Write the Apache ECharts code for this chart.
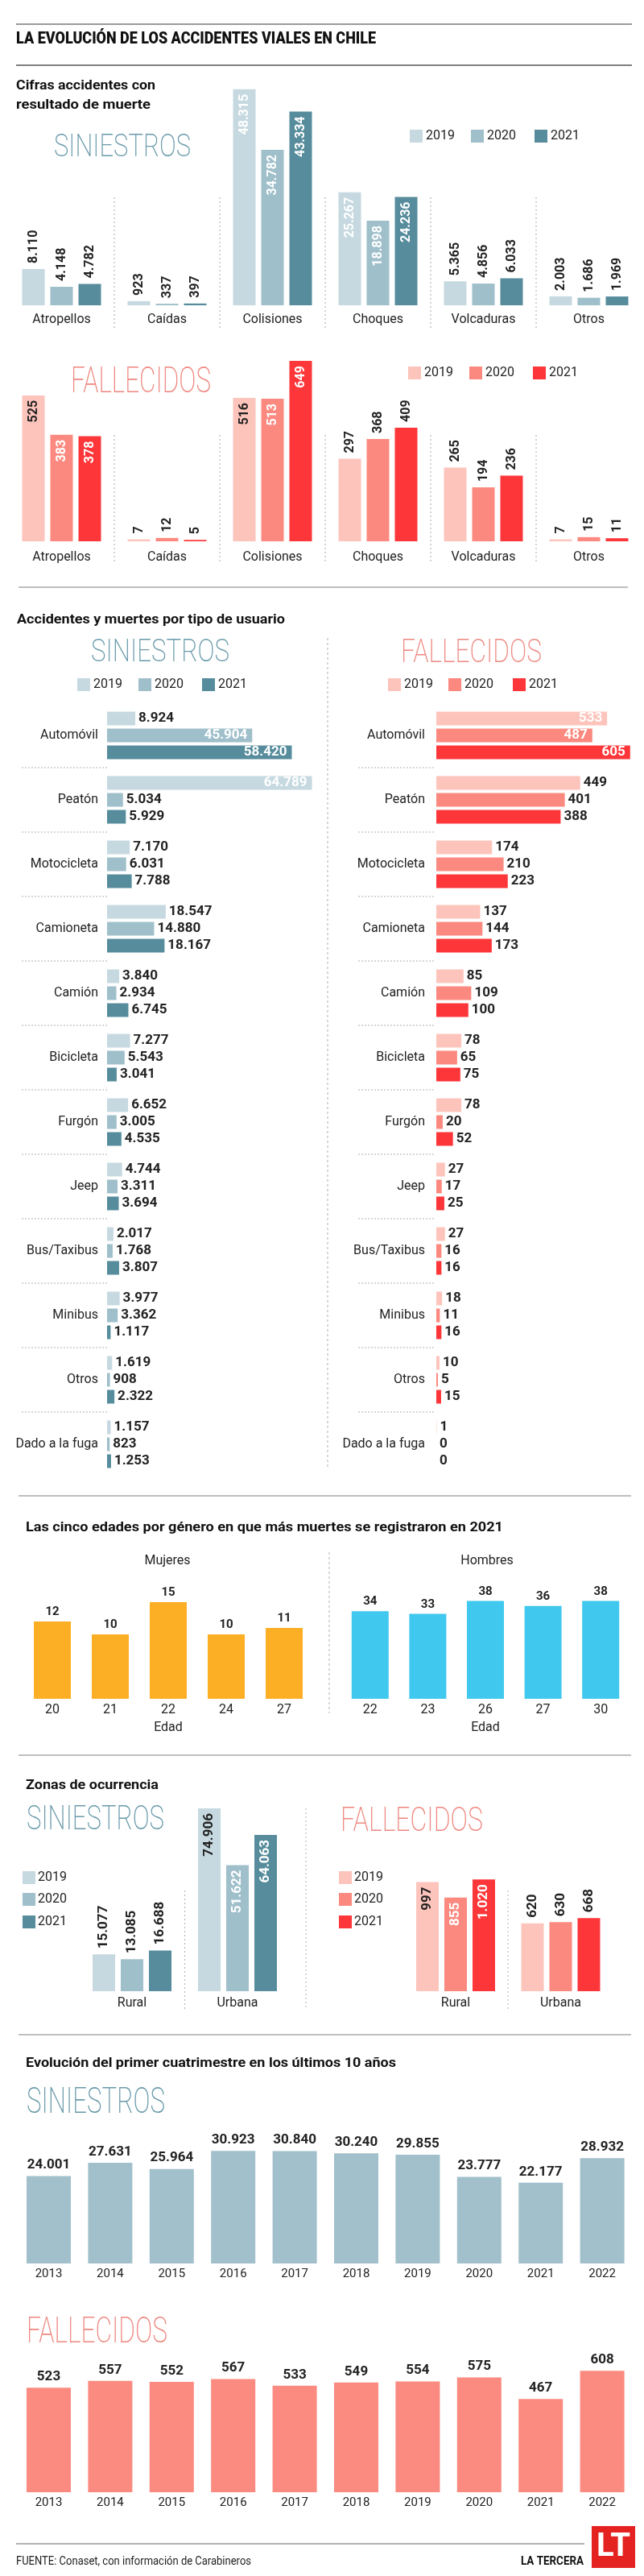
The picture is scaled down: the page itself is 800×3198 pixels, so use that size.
<!DOCTYPE html>
<html><head><meta charset="utf-8">
<script src="https://cdn.jsdelivr.net/npm/echarts/dist/echarts.min.js"></script>
<style>html,body{margin:0;padding:0;background:#fff}#c{width:800px;height:3198px}</style>
</head><body><div id="c"></div>
<script>
// ---------------- DATA ----------------
const years = ['2019', '2020', '2021'];
const typeCats = ['Atropellos', 'Caídas', 'Colisiones', 'Choques', 'Volcaduras', 'Otros'];
const typeSiniestros2019 = [8110, 923, 48315, 25267, 5365, 2003];
const typeSiniestros2020 = [4148, 337, 34782, 18898, 4856, 1686];
const typeSiniestros2021 = [4782, 397, 43334, 24236, 6033, 1969];
const typeFallecidos2019 = [525, 7, 516, 297, 265, 7];
const typeFallecidos2020 = [383, 12, 513, 368, 194, 15];
const typeFallecidos2021 = [378, 5, 649, 409, 236, 11];

const userCats = ['Automóvil', 'Peatón', 'Motocicleta', 'Camioneta', 'Camión', 'Bicicleta', 'Furgón', 'Jeep', 'Bus/Taxibus', 'Minibus', 'Otros', 'Dado a la fuga'];
const userSiniestros2019 = [8924, 64789, 7170, 18547, 3840, 7277, 6652, 4744, 2017, 3977, 1619, 1157];
const userSiniestros2020 = [45904, 5034, 6031, 14880, 2934, 5543, 3005, 3311, 1768, 3362, 908, 823];
const userSiniestros2021 = [58420, 5929, 7788, 18167, 6745, 3041, 4535, 3694, 3807, 1117, 2322, 1253];
const userFallecidos2019 = [533, 449, 174, 137, 85, 78, 78, 27, 27, 18, 10, 1];
const userFallecidos2020 = [487, 401, 210, 144, 109, 65, 20, 17, 16, 11, 5, 0];
const userFallecidos2021 = [605, 388, 223, 173, 100, 75, 52, 25, 16, 16, 15, 0];

const agesMujeres = ['20', '21', '22', '24', '27'];
const muertesMujeres = [12, 10, 15, 10, 11];
const agesHombres = ['22', '23', '26', '27', '30'];
const muertesHombres = [34, 33, 38, 36, 38];

const zoneCats = ['Rural', 'Urbana'];
const zoneSiniestros2019 = [15077, 74906];
const zoneSiniestros2020 = [13085, 51622];
const zoneSiniestros2021 = [16688, 64063];
const zoneFallecidos2019 = [997, 620];
const zoneFallecidos2020 = [855, 630];
const zoneFallecidos2021 = [1020, 668];

const evoYears = ['2013', '2014', '2015', '2016', '2017', '2018', '2019', '2020', '2021', '2022'];
const evoSiniestros = [24001, 27631, 25964, 30923, 30840, 30240, 29855, 23777, 22177, 28932];
const evoFallecidos = [523, 557, 552, 567, 533, 549, 554, 575, 467, 608];

// ---------------- STYLE ----------------
const FONT = 'Roboto, "Noto Sans", Arial, sans-serif';
const BLUE = ['#c6d9e0', '#9fbfca', '#568c9c'];
const RED = ['#fdc4bc', '#fb897f', '#fd363a'];
const BLUE_WORD = '#6a9bab';
const RED_WORD = '#ee8880';
const TXT = '#222';
const fmt = v => String(v).replace(/\B(?=(\d{3})+(?!\d))/g, '.');

const grid = [], xAxis = [], yAxis = [], series = [], els = [];
const cv = document.createElement('canvas').getContext('2d');
function measure(t, font) { cv.font = font; return cv.measureText(t).width; }

function text(x, y, t, o = {}) {
  const size = o.size || 16, weight = o.weight || 'normal';
  const el = {
    type: 'text', x, y, z: 10, silent: true,
    style: {
      text: t, fontSize: size, fontWeight: weight, fontFamily: FONT, fill: o.color || TXT,
      align: o.align || 'left', verticalAlign: o.va || 'middle',
      textAlign: o.align || 'left', textVerticalAlign: o.va || 'middle'
    }
  };
  if (o.width) {
    const w = measure(t, `${weight} ${size}px ${FONT}`);
    el.scaleX = o.width / w;
  }
  els.push(el);
}
function bigWord(x, yTop, yBot, xRight, t, color) {
  const capH = yBot - yTop;
  text(x, (yTop + yBot) / 2, t, { size: capH / 0.711, weight: 200, color, width: xRight - x });
}
function line(x1, y1, x2, y2, color, w, dash) {
  els.push({ type: 'line', silent: true, shape: { x1, y1, x2, y2 }, style: { stroke: color, lineWidth: w || 1, lineDash: dash || null } });
}
function rect(x, y, w, h, fill) {
  els.push({ type: 'rect', silent: true, shape: { x, y, width: w, height: h }, style: { fill } });
}
function legendRow(xs, yc, colors) {
  xs.forEach((x, i) => { rect(x, yc - 8, 16, 16, colors[i]); text(x + 20, yc, years[i], { size: 16 }); });
}
function legendCol(x, ys, colors) {
  ys.forEach((y, i) => { rect(x, y - 8, 16, 16, colors[i]); text(x + 19, y, years[i], { size: 16 }); });
}

const lblOutV = (size) => ({ show: true, position: 'top', rotate: 90, align: 'left', verticalAlign: 'middle', distance: 7, color: TXT, fontWeight: 'bold', fontSize: size || 16, fontFamily: FONT, formatter: p => fmt(p.value) });
const lblInV = (color, size) => ({ show: true, position: 'insideTop', rotate: 90, align: 'right', verticalAlign: 'middle', distance: 6, color, fontWeight: 'bold', fontSize: size || 16, fontFamily: FONT, formatter: p => fmt(p.value) });
const lblTop = (size, dist) => ({ show: true, position: 'top', distance: dist, color: TXT, fontWeight: 'bold', fontSize: size, fontFamily: FONT, formatter: p => fmt(p.value) });

function vBars(g, cats, seriesData, colors, o) {
  const gi = grid.length;
  grid.push({ left: g.left, top: g.top, width: g.width, height: g.height, containLabel: false, outerBoundsMode: 'none' });
  xAxis.push({
    type: 'category', gridIndex: gi, data: cats,
    axisLine: { show: false }, axisTick: { show: false }, splitLine: { show: false },
    axisLabel: { interval: 0, fontSize: o.catSize || 16, color: TXT, margin: o.catMargin, fontFamily: FONT },
    name: o.axisName || '', nameLocation: 'middle', nameGap: o.nameGap || 0,
    nameTextStyle: { fontSize: 16, color: TXT, fontFamily: FONT }
  });
  yAxis.push({ type: 'value', gridIndex: gi, min: 0, max: g.max, show: false, splitLine: { show: false } });
  seriesData.forEach((vals, s) => {
    series.push({
      type: 'bar', name: (o.names || years)[s], xAxisIndex: gi, yAxisIndex: gi,
      barWidth: o.barWidth, barGap: o.barGap || '25%', silent: true,
      itemStyle: { color: colors[s] },
      data: vals.map((v, i) => ({ value: v, label: o.label(s, i, v) }))
    });
  });
}
function hBars(g, cats, seriesData, colors, o) {
  const gi = grid.length;
  grid.push({ left: g.left, top: g.top, width: g.width, height: g.height, containLabel: false, outerBoundsMode: 'none' });
  yAxis.push({
    type: 'category', gridIndex: gi, data: cats, inverse: true,
    axisLine: { show: false }, axisTick: { show: false }, splitLine: { show: false },
    axisLabel: { interval: 0, fontSize: 16, color: TXT, margin: o.catMargin, fontFamily: FONT }
  });
  xAxis.push({ type: 'value', gridIndex: gi, min: 0, max: g.max, show: false, splitLine: { show: false } });
  seriesData.forEach((vals, s) => {
    series.push({
      type: 'bar', name: years[s], xAxisIndex: gi, yAxisIndex: gi,
      barWidth: 17, barGap: '23.5%', silent: true,
      itemStyle: { color: colors[s] },
      data: vals.map(v => ({
        value: v,
        label: v >= o.insideMin
          ? { show: true, position: 'insideRight', distance: 6, color: '#fff', fontWeight: 'bold', fontSize: 17, fontFamily: FONT, formatter: p => fmt(p.value) }
          : { show: true, position: 'right', distance: 4, color: TXT, fontWeight: 'bold', fontSize: 17, fontFamily: FONT, formatter: p => fmt(p.value) }
      }))
    });
  });
}

// ---------------- HEADER ----------------
line(20, 30, 785, 30, '#9a9a9a', 2);
text(20, 48.5, 'LA EVOLUCIÓN DE LOS ACCIDENTES VIALES EN CHILE', { size: 21, weight: 900, width: 447, color: '#111' });
line(20, 81, 785, 81, '#555', 1.5);

// ---------------- SECTION 1: tipo de accidente ----------------
text(20, 107, 'Cifras accidentes con', { size: 17, weight: 'bold', width: 173, color: '#111' });
text(20, 131, 'resultado de muerte', { size: 17, weight: 'bold', width: 167, color: '#111' });
bigWord(67, 170, 198, 237, 'SINIESTROS', BLUE_WORD);
legendRow([509, 585, 664], 169, BLUE);

const insideTypeSin = ['Colisiones', 'Choques'];
vBars({ left: 11, width: 786, top: 101.5, height: 277.5, max: 50000 }, typeCats,
  [typeSiniestros2019, typeSiniestros2020, typeSiniestros2021], BLUE, {
    barWidth: 28, catMargin: 10,
    label: (s, i, v) => insideTypeSin.includes(typeCats[i]) ? lblInV('#fff') : lblOutV()
  });

bigWord(88, 461, 492, 262, 'FALLECIDOS', RED_WORD);
legendRow([507, 583, 662], 463, RED);
const insideTypeFal = ['Atropellos', 'Colisiones'];
vBars({ left: 11, width: 786, top: 430.5, height: 241.5, max: 700 }, typeCats,
  [typeFallecidos2019, typeFallecidos2020, typeFallecidos2021], RED, {
    barWidth: 28, catMargin: 12,
    label: (s, i, v) => insideTypeFal.includes(typeCats[i]) ? lblInV(s === 0 ? TXT : '#fff') : lblOutV()
  });
for (let k = 1; k < typeCats.length; k++) {
  const x = 11 + 131 * k;
  line(x, 245, x, 407, '#a8a8a8', 1, [2, 3]);
  line(x, 540, x, 700, '#a8a8a8', 1, [2, 3]);
}
line(23, 729, 780, 729, '#aaa', 1.5);

// ---------------- SECTION 2: tipo de usuario ----------------
text(21, 770, 'Accidentes y muertes por tipo de usuario', { size: 17, weight: 'bold', width: 333, color: '#111' });
bigWord(113, 797, 825, 285, 'SINIESTROS', BLUE_WORD);
bigWord(498, 797, 826, 673, 'FALLECIDOS', RED_WORD);
legendRow([96, 172, 251], 850, BLUE);
legendRow([482, 557, 637], 850, RED);

hBars({ left: 133, width: 275, top: 873, height: 960, max: 70000 }, userCats,
  [userSiniestros2019, userSiniestros2020, userSiniestros2021], BLUE, { catMargin: 11, insideMin: 30000 });
hBars({ left: 542, width: 258.7, top: 873, height: 960, max: 650 }, userCats,
  [userFallecidos2019, userFallecidos2020, userFallecidos2021], RED, { catMargin: 14, insideMin: 470 });
for (let k = 1; k < userCats.length; k++) {
  const y = 873 + 80 * k;
  line(27, y, 133, y, '#b0b0b0', 1, [2, 2]);
  line(445, y, 541, y, '#b0b0b0', 1, [2, 2]);
}
line(407, 792, 407, 1822, '#b0b0b0', 1, [3, 3]);
line(23, 1857, 784, 1857, '#aaa', 1.5);

// ---------------- SECTION 3: edades ----------------
text(32, 1897, 'Las cinco edades por género en que más muertes se registraron en 2021', { size: 17, weight: 'bold', width: 593, color: '#111' });
text(208, 1938, 'Mujeres', { size: 16, align: 'center' });
text(605, 1938, 'Hombres', { size: 16, align: 'center' });
vBars({ left: 29, width: 360, top: 1981, height: 128, max: 16 }, agesMujeres, [muertesMujeres], ['#fcae24'], {
  barWidth: 46, catMargin: 6, axisName: 'Edad', nameGap: 28, names: ['Mujeres'],
  label: () => lblTop(15, 4)
});
vBars({ left: 424, width: 358, top: 1981, height: 128, max: 40 }, agesHombres, [muertesHombres], ['#40c8ee'], {
  barWidth: 46, catMargin: 6, axisName: 'Edad', nameGap: 28, names: ['Hombres'],
  label: () => lblTop(15, 4)
});
line(409, 1927, 409, 2127, '#b0b0b0', 1, [3, 3]);
line(23, 2179, 784, 2179, '#aaa', 1.5);

// ---------------- SECTION 4: zonas ----------------
text(32, 2217, 'Zonas de ocurrencia', { size: 17, weight: 'bold', width: 165, color: '#111' });
bigWord(33, 2245, 2275, 204, 'SINIESTROS', BLUE_WORD);
bigWord(423, 2247, 2277, 600, 'FALLECIDOS', RED_WORD);
legendCol(28, [2331, 2358, 2386], BLUE);
legendCol(421, [2331, 2358, 2386], RED);
vBars({ left: 98.5, width: 262, top: 2229.6, height: 242.4, max: 80000 }, zoneCats,
  [zoneSiniestros2019, zoneSiniestros2020, zoneSiniestros2021], BLUE, {
    barWidth: 28, catMargin: 7,
    label: (s, i) => zoneCats[i] === 'Urbana' ? lblInV(s === 0 ? TXT : '#fff', 17) : lblOutV(17)
  });
vBars({ left: 500.75, width: 261, top: 2322.4, height: 149.6, max: 1100 }, zoneCats,
  [zoneFallecidos2019, zoneFallecidos2020, zoneFallecidos2021], RED, {
    barWidth: 28, catMargin: 7,
    label: (s, i) => zoneCats[i] === 'Rural' ? lblInV(s === 0 ? TXT : '#fff', 17) : lblOutV(17)
  });
line(229.5, 2347, 229.5, 2494, '#b0b0b0', 1, [2, 3]);
line(380, 2245, 380, 2494, '#b0b0b0', 1, [2, 3]);
line(631, 2347, 631, 2494, '#b0b0b0', 1, [2, 3]);
line(23, 2526, 784, 2526, '#aaa', 1.5);

// ---------------- SECTION 5: evolución ----------------
text(32, 2562, 'Evolución del primer cuatrimestre en los últimos 10 años', { size: 17, weight: 'bold', width: 460, color: '#111' });
bigWord(33, 2597, 2628, 205, 'SINIESTROS', BLUE_WORD);
vBars({ left: 22.3, width: 764, top: 2651.8, height: 158.2, max: 35000 }, evoYears, [evoSiniestros], ['#a1c0cb'], {
  barWidth: 55, catMargin: 6, catSize: 15, names: ['Siniestros'], label: () => lblTop(17, 5)
});
bigWord(33, 2881, 2913, 208, 'FALLECIDOS', RED_WORD);
vBars({ left: 22.3, width: 764, top: 2920.4, height: 173.6, max: 700 }, evoYears, [evoFallecidos], ['#fb8a80'], {
  barWidth: 55, catMargin: 6, catSize: 15, names: ['Fallecidos'], label: () => lblTop(17, 5)
});

// ---------------- FOOTER ----------------
line(20, 3158, 726, 3158, '#999', 1.5);
text(20, 3180, 'FUENTE: Conaset, con información de Carabineros', { size: 14, width: 292 });
text(647, 3180, 'LA TERCERA', { size: 14, weight: 'bold', width: 78, color: '#111' });
rect(735, 3136, 54, 52, '#e42320');
text(762, 3163, 'LT', { size: 40, weight: 'bold', color: '#fff', align: 'center' });

const chart = echarts.init(document.getElementById('c'), null, { renderer: 'canvas' });
chart.setOption({
  animation: false,
  backgroundColor: '#fff',
  textStyle: { fontFamily: FONT },
  grid, xAxis, yAxis, series,
  graphic: { elements: els }
});
</script></body></html>
